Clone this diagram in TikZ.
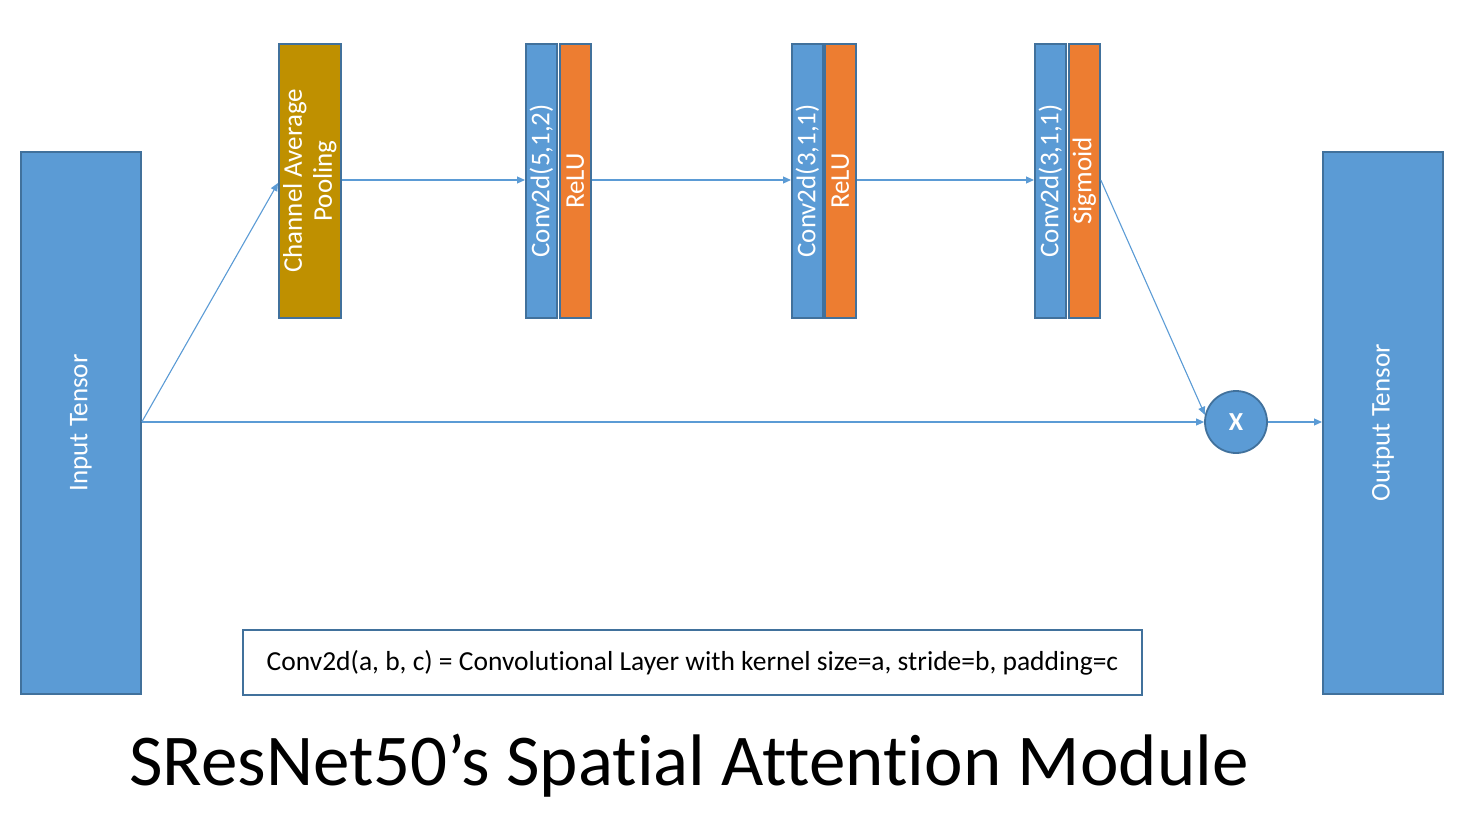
\documentclass[tikz,border=0pt]{standalone}
\usepackage{fontspec}
\setmainfont{Carlito}[Ligatures=NoCommon]
\usetikzlibrary{arrows.meta}
\definecolor{cblue}{HTML}{5B9BD5}
\definecolor{cborder}{HTML}{41719C}
\definecolor{corange}{HTML}{ED7D31}
\definecolor{cgold}{HTML}{BF9000}
\tikzset{
  box/.style={draw=cborder, line width=1.8pt, inner sep=0pt, anchor=north west},
  lbl/.style={text=white, rotate=90, inner sep=0pt, align=center, font=\fontsize{27}{30}\selectfont},
  conn/.style={draw=cblue, line width=1.1pt, -{Triangle[length=8pt,width=7pt]}},
}
\begin{document}
\begin{tikzpicture}[x=1pt,y=-1pt]
\useasboundingbox (0,0) rectangle (1465,824);
% tensors
\node[box, fill=cblue, minimum width=120pt, minimum height=542pt] (in) at (20,151) {};
\node[lbl] at (in.center) {Input Tensor};
\node[box, fill=cblue, minimum width=120pt, minimum height=542pt] (out) at (1322,151) {};
\node[lbl] at (out.center) {Output Tensor};
% pooling
\node[box, fill=cgold, minimum width=62pt, minimum height=274pt] (pool) at (278,43) {};
\node[lbl] at (pool.center) {Channel Average\\Pooling};
% conv 1
\node[box, fill=cblue, minimum width=31pt, minimum height=274pt] (c1) at (525,43) {};
\node[lbl] at (c1.center) {Conv2d(5,1,2)};
\node[box, fill=corange, minimum width=31pt, minimum height=274pt] (r1) at (559,43) {};
\node[lbl] at (r1.center) {ReLU};
% conv 2
\node[box, fill=cblue, minimum width=31pt, minimum height=274pt] (c2) at (791,43) {};
\node[lbl] at (c2.center) {Conv2d(3,1,1)};
\node[box, fill=corange, minimum width=31pt, minimum height=274pt] (r2) at (824,43) {};
\node[lbl] at (r2.center) {ReLU};
% conv 3
\node[box, fill=cblue, minimum width=31pt, minimum height=274pt] (c3) at (1034,43) {};
\node[lbl] at (c3.center) {Conv2d(3,1,1)};
\node[box, fill=corange, minimum width=31pt, minimum height=274pt] (s3) at (1068,43) {};
\node[lbl] at (s3.center) {Sigmoid};
% multiply
\node[circle, draw=cborder, line width=1.8pt, fill=cblue, minimum size=62pt, inner sep=0pt, text=white, font=\bfseries\fontsize{26}{30}\selectfont] (mul) at (1236,422) {X};
% legend
\node[draw=cborder, line width=1.8pt, fill=white, minimum width=899pt, minimum height=65pt, inner sep=0pt, font=\fontsize{27.5}{30}\selectfont] (leg) at (692.5,662.5) {Conv2d(a, b, c) = Convolutional Layer with kernel size=a, stride=b, padding=c};
% title
\node[anchor=base, inner sep=0pt, font=\fontsize{73}{80}\selectfont] (title) at (689,785) {SResNet50’s Spatial Attention Module};
% connectors
\coordinate (inR) at (in.east |- mul.west);
\draw[conn] (inR) -- (pool.west |- 0,183);
\draw[conn] (inR) -- (mul.west);
\draw[conn] (pool.east |- 0,180) -- (c1.west |- 0,180);
\draw[conn] (r1.east |- 0,180) -- (c2.west |- 0,180);
\draw[conn] (r2.east |- 0,180) -- (c3.west |- 0,180);
\draw[conn] (s3.east |- 0,180) -- (mul.167);
\draw[conn] (mul.east) -- (out.west |- mul.east);
\end{tikzpicture}
\end{document}
